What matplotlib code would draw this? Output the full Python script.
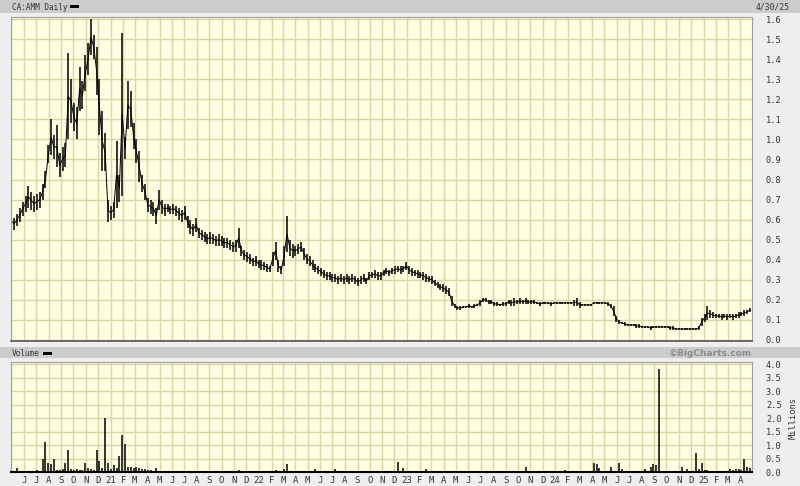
import numpy as np
import pandas as pd
import matplotlib
matplotlib.use("Agg")
import matplotlib.pyplot as plt
from matplotlib.patches import Rectangle

# ---------------- data (weekly high / low, volume in millions) ----------------
week_start = "2020-05-01"
n_weeks = 261

lows = [
    0.56, 0.55, 0.57, 0.59, 0.62, 0.64, 0.66, 0.65, 0.64, 0.65,
    0.66, 0.70, 0.76, 0.88, 0.92, 0.90, 0.86, 0.81, 0.84, 0.86,
    1.00, 1.08, 1.04, 1.00, 1.14, 1.15, 1.24, 1.32, 1.42, 1.40,
    1.22, 1.02, 0.84, 0.84, 0.59, 0.60, 0.61, 0.66, 0.69, 0.72,
    0.90, 1.05, 1.06, 0.95, 0.88, 0.79, 0.74, 0.70, 0.64, 0.63,
    0.62, 0.58, 0.65, 0.63, 0.62, 0.64, 0.63, 0.63, 0.62, 0.60,
    0.59, 0.60, 0.56, 0.53, 0.52, 0.54, 0.51, 0.50, 0.49, 0.48,
    0.48, 0.48, 0.47, 0.47, 0.47, 0.46, 0.46, 0.45, 0.44, 0.44,
    0.46, 0.42, 0.40, 0.39, 0.38, 0.37, 0.37, 0.36, 0.35, 0.35,
    0.34, 0.34, 0.37, 0.40, 0.34, 0.33, 0.37, 0.44, 0.42, 0.41,
    0.42, 0.43, 0.44, 0.40, 0.38, 0.37, 0.35, 0.34, 0.33, 0.32,
    0.31, 0.30, 0.30, 0.29, 0.29, 0.28, 0.29, 0.28, 0.29, 0.28,
    0.29, 0.28, 0.27, 0.28, 0.29, 0.28, 0.30, 0.31, 0.31, 0.30,
    0.30, 0.32, 0.33, 0.32, 0.33, 0.33, 0.34, 0.33, 0.34, 0.35,
    0.33, 0.32, 0.32, 0.31, 0.31, 0.30, 0.29, 0.29, 0.28, 0.27,
    0.26, 0.25, 0.24, 0.23, 0.22, 0.17, 0.16, 0.15, 0.15, 0.16,
    0.16, 0.16, 0.16, 0.16, 0.17, 0.17, 0.19, 0.19, 0.18, 0.18,
    0.17, 0.17, 0.17, 0.17, 0.17, 0.18, 0.17, 0.17, 0.18, 0.18,
    0.18, 0.18, 0.18, 0.18, 0.18, 0.18, 0.17, 0.18, 0.18, 0.18,
    0.17, 0.18, 0.18, 0.18, 0.18, 0.18, 0.18, 0.18, 0.17, 0.17,
    0.16, 0.17, 0.17, 0.17, 0.17, 0.18, 0.18, 0.18, 0.18, 0.18,
    0.17, 0.16, 0.12, 0.09, 0.08, 0.08, 0.07, 0.07, 0.07, 0.07,
    0.06, 0.06, 0.06, 0.06, 0.06, 0.05, 0.06, 0.06, 0.06, 0.06,
    0.06, 0.06, 0.05, 0.05, 0.05, 0.05, 0.05, 0.05, 0.05, 0.05,
    0.05, 0.05, 0.05, 0.07, 0.09, 0.10, 0.11, 0.11, 0.11, 0.11,
    0.10, 0.11, 0.10, 0.11, 0.10, 0.11, 0.11, 0.12, 0.12, 0.13,
    0.14,
]
highs = [
    0.62, 0.61, 0.63, 0.66, 0.69, 0.72, 0.77, 0.74, 0.72, 0.73,
    0.74, 0.78, 0.84, 0.97, 1.10, 1.02, 1.07, 0.93, 0.96, 0.98,
    1.43, 1.30, 1.18, 1.16, 1.36, 1.29, 1.42, 1.48, 1.60, 1.52,
    1.46, 1.30, 1.14, 1.03, 0.70, 0.67, 0.69, 0.99, 0.82, 1.53,
    1.01, 1.29, 1.24, 1.08, 1.00, 0.94, 0.82, 0.78, 0.71, 0.70,
    0.69, 0.66, 0.75, 0.70, 0.68, 0.68, 0.67, 0.68, 0.67, 0.66,
    0.65, 0.67, 0.62, 0.60, 0.58, 0.61, 0.56, 0.55, 0.54, 0.53,
    0.54, 0.53, 0.52, 0.53, 0.52, 0.51, 0.51, 0.50, 0.49, 0.50,
    0.56, 0.47, 0.45, 0.44, 0.43, 0.41, 0.42, 0.40, 0.40, 0.39,
    0.38, 0.37, 0.44, 0.49, 0.40, 0.37, 0.47, 0.62, 0.50, 0.48,
    0.47, 0.48, 0.49, 0.46, 0.43, 0.42, 0.40, 0.38, 0.37, 0.36,
    0.35, 0.34, 0.34, 0.33, 0.33, 0.32, 0.33, 0.32, 0.33, 0.32,
    0.33, 0.32, 0.31, 0.32, 0.33, 0.31, 0.34, 0.34, 0.35, 0.34,
    0.34, 0.35, 0.36, 0.35, 0.36, 0.37, 0.37, 0.37, 0.37, 0.39,
    0.37, 0.36, 0.35, 0.35, 0.34, 0.34, 0.33, 0.32, 0.32, 0.30,
    0.29, 0.28, 0.28, 0.27, 0.26, 0.22, 0.18, 0.17, 0.17, 0.17,
    0.17, 0.18, 0.17, 0.18, 0.18, 0.20, 0.21, 0.21, 0.20, 0.20,
    0.19, 0.19, 0.18, 0.19, 0.19, 0.20, 0.20, 0.21, 0.20, 0.21,
    0.20, 0.21, 0.20, 0.20, 0.20, 0.19, 0.19, 0.19, 0.19, 0.19,
    0.19, 0.19, 0.19, 0.19, 0.19, 0.19, 0.19, 0.19, 0.20, 0.21,
    0.19, 0.18, 0.18, 0.18, 0.18, 0.19, 0.19, 0.19, 0.19, 0.19,
    0.19, 0.18, 0.17, 0.12, 0.10, 0.09, 0.09, 0.08, 0.08, 0.08,
    0.08, 0.08, 0.07, 0.07, 0.07, 0.07, 0.07, 0.07, 0.07, 0.07,
    0.07, 0.07, 0.07, 0.07, 0.06, 0.06, 0.06, 0.06, 0.06, 0.06,
    0.06, 0.06, 0.07, 0.11, 0.13, 0.17, 0.15, 0.14, 0.13, 0.13,
    0.13, 0.13, 0.13, 0.13, 0.13, 0.13, 0.14, 0.14, 0.15, 0.15,
    0.16,
]
volume = [
    0.04, 0.05, 0.15, 0.04, 0.05, 0.05, 0.04, 0.05, 0.04, 0.06,
    0.05, 0.50, 1.12, 0.35, 0.30, 0.50, 0.08, 0.06, 0.10, 0.35,
    0.82, 0.12, 0.08, 0.10, 0.06, 0.08, 0.35, 0.15, 0.10, 0.08,
    0.80, 0.40, 0.15, 2.00, 0.35, 0.12, 0.25, 0.15, 0.60, 1.38,
    1.05, 0.20, 0.18, 0.15, 0.20, 0.15, 0.12, 0.10, 0.08, 0.06,
    0.05, 0.15, 0.04, 0.03, 0.04, 0.03, 0.03, 0.04, 0.02, 0.03,
    0.02, 0.03, 0.02, 0.03, 0.02, 0.02, 0.03, 0.02, 0.02, 0.03,
    0.02, 0.02, 0.02, 0.03, 0.02, 0.02, 0.02, 0.02, 0.02, 0.03,
    0.06, 0.02, 0.02, 0.02, 0.02, 0.02, 0.02, 0.02, 0.02, 0.02,
    0.02, 0.02, 0.04, 0.06, 0.02, 0.02, 0.10, 0.30, 0.05, 0.03,
    0.02, 0.02, 0.03, 0.02, 0.02, 0.02, 0.02, 0.10, 0.02, 0.02,
    0.02, 0.02, 0.02, 0.02, 0.10, 0.02, 0.02, 0.02, 0.02, 0.02,
    0.02, 0.02, 0.02, 0.02, 0.02, 0.02, 0.02, 0.02, 0.02, 0.02,
    0.02, 0.02, 0.02, 0.02, 0.02, 0.02, 0.38, 0.05, 0.15, 0.03,
    0.02, 0.02, 0.02, 0.02, 0.02, 0.02, 0.10, 0.02, 0.02, 0.02,
    0.02, 0.02, 0.02, 0.02, 0.02, 0.03, 0.02, 0.02, 0.02, 0.02,
    0.02, 0.02, 0.02, 0.02, 0.02, 0.02, 0.02, 0.02, 0.02, 0.02,
    0.02, 0.02, 0.02, 0.02, 0.02, 0.02, 0.02, 0.02, 0.02, 0.02,
    0.02, 0.20, 0.02, 0.02, 0.02, 0.02, 0.02, 0.02, 0.02, 0.02,
    0.02, 0.02, 0.02, 0.02, 0.02, 0.08, 0.02, 0.02, 0.02, 0.02,
    0.02, 0.02, 0.02, 0.02, 0.02, 0.35, 0.30, 0.15, 0.05, 0.04,
    0.03, 0.17, 0.05, 0.04, 0.35, 0.10, 0.03, 0.03, 0.02, 0.02,
    0.02, 0.02, 0.02, 0.10, 0.02, 0.20, 0.30, 0.25, 3.82, 0.03,
    0.02, 0.02, 0.02, 0.02, 0.02, 0.02, 0.20, 0.05, 0.10, 0.03,
    0.03, 0.72, 0.10, 0.35, 0.08, 0.06, 0.05, 0.04, 0.04, 0.05,
    0.04, 0.05, 0.05, 0.10, 0.08, 0.10, 0.10, 0.06, 0.48, 0.20,
    0.15,
]

header_left = "CA:AMM Daily"
header_right = "4/30/25"
vol_title = "Volume"
credit = "\u00a9BigCharts.com"
price_ticks = [0.0, 0.1, 0.2, 0.3, 0.4, 0.5, 0.6, 0.7, 0.8, 0.9, 1.0,
               1.1, 1.2, 1.3, 1.4, 1.5, 1.6]
vol_ticks = [0.0, 0.5, 1.0, 1.5, 2.0, 2.5, 3.0, 3.5, 4.0]
x_start, x_end = "2020-04-30", "2025-04-30"

# ---------------- figure ----------------
W, H = 800, 486
BG = "#eeeeee"
BAR = "#cccccc"
PLOT_BG = "#fefee3"
GRID = "#d9d5a4"
TXT = "#333333"
FONT = "DejaVu Sans Mono"

dates = pd.date_range(week_start, periods=n_weeks, freq="7D")
lows = np.array(lows)
highs = np.array(highs)
volume = np.array(volume)
mids = (lows + highs) / 2

fig = plt.figure(figsize=(W / 100, H / 100), dpi=100, facecolor=BG)


def fbox(x0, y0, x1, y1):
    return [x0 / W, 1 - y1 / H, (x1 - x0) / W, (y1 - y0) / H]


# header bars
for (y0, y1) in [(0, 13), (347, 358)]:
    b = fbox(0, y0, W, y1)
    fig.patches.append(Rectangle((b[0], b[1]), b[2], b[3], transform=fig.transFigure,
                                 facecolor=BAR, edgecolor="none", zorder=0))

fig.text(12 / W, 1 - 7 / H, header_left, fontsize=5.6, family=FONT, color=TXT,
         va="center", ha="left")
fig.text(790 / W, 1 - 7 / H, header_right, fontsize=5.8, family=FONT, color=TXT,
         va="center", ha="right")
fig.text(12 / W, 1 - 353 / H, vol_title, fontsize=5.6, family=FONT, color=TXT,
         va="center", ha="left")
fig.text(752 / W, 1 - 353 / H, credit, fontsize=6.5, family="DejaVu Sans",
         weight="bold", color="#8c8c8c", va="center", ha="right")
for (x0, y0) in [(70, 5.5), (43, 351.5)]:
    b = fbox(x0, y0, x0 + 9, y0 + 3)
    fig.patches.append(Rectangle((b[0], b[1]), b[2], b[3], transform=fig.transFigure,
                                 facecolor="black", edgecolor="none", zorder=1))

ax = fig.add_axes(fbox(11, 17, 752, 341))
axv = fig.add_axes(fbox(11, 362, 752, 472), sharex=ax)

months = pd.date_range("2020-05-01", "2025-04-01", freq="MS")
label_months = months[1:]
labels = [(f"{d.year % 100:02d}" if d.month == 1 else d.strftime("%b")[0])
          for d in label_months]

for a in (ax, axv):
    a.set_facecolor(PLOT_BG)
    a.set_xlim(pd.Timestamp(x_start), pd.Timestamp(x_end))
    a.set_xticks(months)
    a.grid(True, color=GRID, lw=1.0)
    a.set_axisbelow(True)
    a.yaxis.tick_right()
    a.tick_params(axis="both", length=0, labelsize=6.2, labelcolor=TXT, pad=10)
    for s in a.spines.values():
        s.set_color("#a0a0a0")
        s.set_linewidth(0.8)

# price
ax.vlines(dates, lows, highs, color="black", lw=1.1)
ax.plot(dates, mids, color="black", lw=0.7)
ax.set_ylim(-0.005, 1.61)
ax.set_yticks(price_ticks)
ax.set_yticklabels([f"{v:.1f}" for v in price_ticks], family=FONT)
ax.tick_params(axis="x", labelbottom=False)
ax.spines["bottom"].set_color("#555555")
ax.spines["bottom"].set_linewidth(1.2)

# volume
axv.vlines(dates, 0, volume, color="black", lw=1.1)
axv.set_ylim(0, 4.085)
axv.set_yticks(vol_ticks)
axv.set_yticklabels([f"{v:.1f}" for v in vol_ticks], family=FONT)
axv.spines["bottom"].set_color("black")
axv.spines["bottom"].set_linewidth(1.5)
axv.set_xticks(months)
axv.set_xticklabels([""] + labels, family=FONT, fontsize=6.5)
axv.tick_params(axis="x", pad=3)

fig.text(793 / W, 1 - 418 / H, "Millions", rotation=90, fontsize=6.2, family=FONT,
         color=TXT, va="center", ha="center")

fig.savefig("out.png", dpi=100, facecolor=BG)
